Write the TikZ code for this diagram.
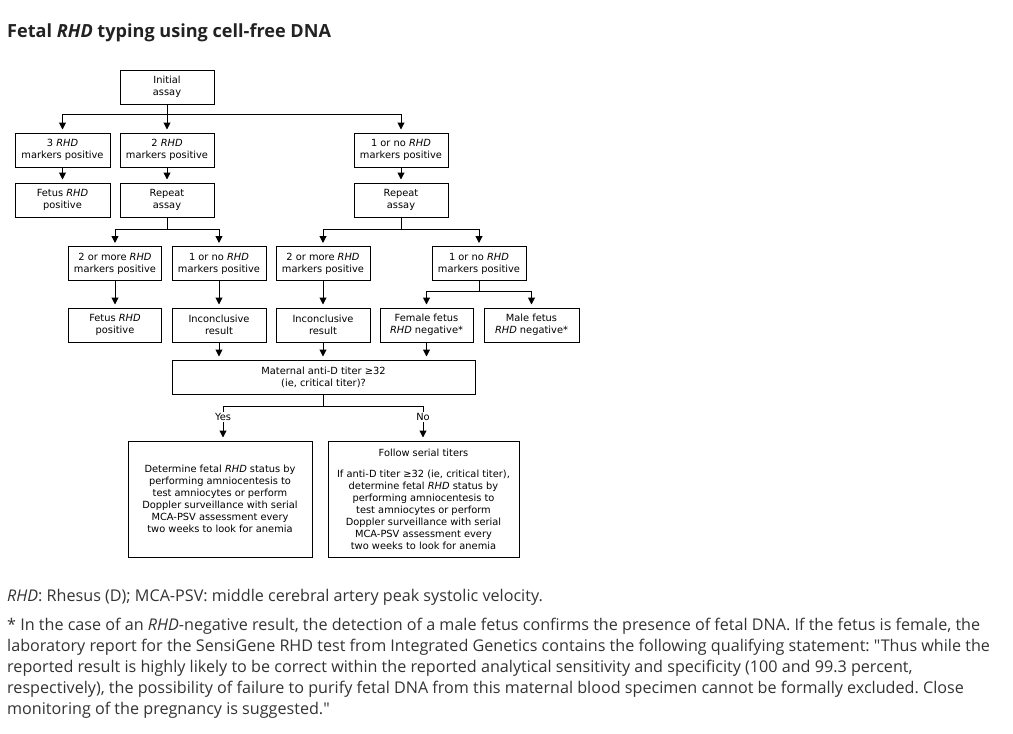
\documentclass[tikz,border=0pt]{standalone}
\usepackage{fontspec}
\setmainfont{Open Sans}
\newfontfamily\osfont{Open Sans}
\newfontfamily\djfont{DejaVu Sans}
\usetikzlibrary{arrows.meta}
\definecolor{fntext}{RGB}{51,51,51}
\definecolor{ttext}{RGB}{34,34,34}
\frenchspacing
\begin{document}
\begin{tikzpicture}[x=1pt,y=-1pt,
  box/.style={draw, line width=1pt, font=\djfont\fontsize{9.85}{12}\selectfont, align=center, inner sep=0pt, minimum height=34pt},
  lbl/.style={font=\djfont\fontsize{9.85}{12}\selectfont, inner sep=1.5pt},
  arr/.style={-{Triangle[length=7pt,width=7pt]}, line width=1pt, shorten >=3pt},
  ln/.style={line width=1pt},
  fn/.style={anchor=base west, inner sep=0pt, text=fntext, font=\osfont\frenchspacing\fontsize{16.15}{21}\selectfont}]
\useasboundingbox (0,0) rectangle (1013,734);

\node[anchor=base west, inner sep=0pt, text=ttext, font=\bfseries\fontsize{18.1}{20}\selectfont] (title) at (7,37.3) {Fetal \textit{RHD} typing using cell-free DNA};

% boxes
\node[box, minimum width=94pt] (init) at (167,87) {Initial\\assay};

\node[box, minimum width=95pt] (b3) at (62.5,150) {3 \textit{RHD}\\markers positive};
\node[box, minimum width=94pt] (b2) at (167,150) {2 \textit{RHD}\\markers positive};
\node[box, minimum width=94pt] (b1) at (401,150) {1 or no \textit{RHD}\\markers positive};

\node[box, minimum width=95pt] (fp1) at (62.5,200) {Fetus \textit{RHD}\\positive};
\node[box, minimum width=94pt] (rep1) at (167,200) {Repeat\\assay};
\node[box, minimum width=94pt] (rep2) at (401,200) {Repeat\\assay};

\node[box, minimum width=93pt] (m2a) at (115,263.5) {2 or more \textit{RHD}\\markers positive};
\node[box, minimum width=94pt] (m1a) at (219,263.5) {1 or no \textit{RHD}\\markers positive};
\node[box, minimum width=94pt] (m2b) at (323,263.5) {2 or more \textit{RHD}\\markers positive};
\node[box, minimum width=94pt] (m1b) at (479,263.5) {1 or no \textit{RHD}\\markers positive};

\node[box, minimum width=93pt] (fp2) at (115,325) {Fetus \textit{RHD}\\positive};
\node[box, minimum width=94pt] (inc1) at (219,325) {Inconclusive\\result};
\node[box, minimum width=94pt] (inc2) at (323,325) {Inconclusive\\result};
\node[box, minimum width=93pt] (fem) at (426.5,325) {Female fetus\\\textit{RHD} negative*};
\node[box, minimum width=95pt] (male) at (531.5,325) {Male fetus\\\textit{RHD} negative*};

\node[box, minimum width=303pt] (mat) at (323.5,377) {Maternal anti-D titer ≥32\\(ie, critical titer)?};

\node[lbl] (yes) at (223,417) {Yes};
\node[lbl] (no) at (423,417) {No};

\node[box, minimum width=184pt, minimum height=116pt] (lb) at (220,499) {Determine fetal \textit{RHD} status by\\performing amniocentesis to\\test amniocytes or perform\\Doppler surveillance with serial\\MCA-PSV assessment every\\two weeks to look for anemia};
\node[box, minimum width=191pt, minimum height=116pt] (rb) at (423.5,499) {Follow serial titers\\[9pt]If anti-D titer ≥32 (ie, critical titer),\\determine fetal \textit{RHD} status by\\performing amniocentesis to\\test amniocytes or perform\\Doppler surveillance with serial\\MCA-PSV assessment every\\two weeks to look for anemia};

% connectors
\draw[arr] (init.south) -- ++(0,10) -| (b3.north);
\draw[arr] (init.south) -- (b2.north);
\draw[arr] (init.south) -- ++(0,10) -| (b1.north);
\draw[arr] (b3) -- (fp1);
\draw[arr] (b2) -- (rep1);
\draw[arr] (b1) -- (rep2);
\draw[arr] (rep1.south) -- ++(0,12) -| (m2a.north);
\draw[arr] (rep1.south) -- ++(0,12) -| (m1a.north);
\draw[arr] (rep2.south) -- ++(0,12) -| (m2b.north);
\draw[arr] (rep2.south) -- ++(0,12) -| (m1b.north);
\draw[arr] (m2a) -- (fp2);
\draw[arr] (m1a) -- (inc1);
\draw[arr] (m2b) -- (inc2);
\draw[arr] (m1b.south) -- ++(0,10) -| (fem.north);
\draw[arr] (m1b.south) -- ++(0,10) -| (male.north);
\draw[arr] (inc1.south) -- (inc1.south |- mat.north);
\draw[arr] (inc2.south) -- (inc2.south |- mat.north);
\draw[arr] (fem.south) -- (fem.south |- mat.north);
\draw[ln] (mat.south) -- ++(0,12) -| (yes.north);
\draw[ln] (mat.south) -- ++(0,12) -| (no.north);
\draw[arr] (yes.south) -- (yes.south |- lb.north);
\draw[arr] (no.south) -- (no.south |- rb.north);

% footnotes
\node[fn] (fn1) at (7,601) {\textit{RHD}: Rhesus (D); MCA-PSV: middle cerebral artery peak systolic velocity.};
\node[fn] (fn2) at (7,630) {* In the case of an \textit{RHD}-negative result, the detection of a male fetus confirms the presence of fetal DNA. If the fetus is female, the};
\node[fn] (fn3) at (7,651) {laboratory report for the SensiGene RHD test from Integrated Genetics contains the following qualifying statement: "Thus while the};
\node[fn] (fn4) at (7,672) {reported result is highly likely to be correct within the reported analytical sensitivity and specificity (100 and 99.3 percent,};
\node[fn] (fn5) at (7,693) {respectively), the possibility of failure to purify fetal DNA from this maternal blood specimen cannot be formally excluded. Close};
\node[fn] (fn6) at (7,714) {monitoring of the pregnancy is suggested."};
\end{tikzpicture}
\end{document}
